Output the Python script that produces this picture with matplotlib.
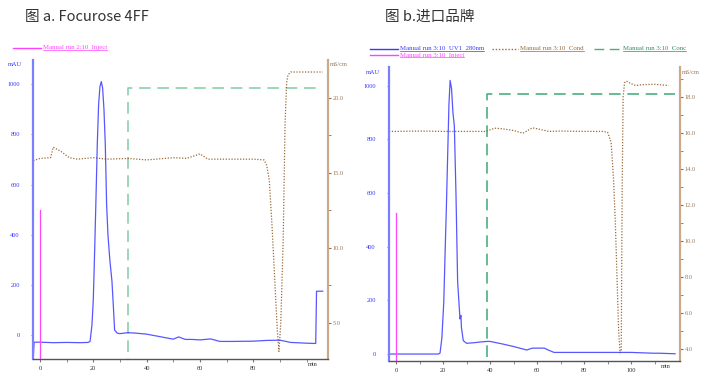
import matplotlib
matplotlib.use("Agg")
import matplotlib.pyplot as plt
from matplotlib.lines import Line2D
import numpy as np

# ---------------- data: panel a (Focurose 4FF) ----------------
a_uv_t = [-2.6, -2.5, -2.2, 0, 5, 10, 15, 18, 18.8, 19.5, 20, 20.5, 21, 21.5, 22, 22.5,
          23.0, 23.5, 24.0, 24.5, 25.0, 25.5, 26.2, 27.0, 27.5, 28.0, 29, 30, 33, 36, 40,
          45, 50, 52, 54.5, 57, 60, 64, 67.5, 72, 80, 85, 90, 94, 100, 102.5, 103.4, 103.7, 106]
a_uv_v = [0, -95, -28, -28, -30, -29, -30, -29, -25, 40, 140, 330, 540, 760, 920, 990,
          1010, 985, 900, 760, 520, 400, 300, 215, 120, 20, 8, 6, 10, 8, 4,
          -6, -16, -7, -17, -17, -19, -15, -25, -25, -24, -21, -20, -29, -32, -33, -33, 175, 175]
a_inj_t = [0, 0]
a_inj_v = [-95, 500]
a_cond_t = [-2.5, 0, 4, 5, 8, 11, 14, 20, 25, 33, 40, 50, 55, 60, 63, 70, 80, 84, 85, 86,
            87, 88, 89, 89.6, 90.3, 91.2, 91.9, 92.5, 93.0, 94, 95, 106]
a_cond_v = [15.8, 15.95, 16.0, 16.7, 16.4, 16.0, 15.9, 16.0, 15.9, 15.95, 15.85, 16.0, 15.95,
            16.25, 15.9, 15.9, 15.9, 15.85, 15.5, 14.5, 11.5, 8.0, 4.5, 3.1, 5.0, 10.5, 18.3,
            21.0, 21.5, 21.7, 21.7, 21.7]
a_conc_t = [-2.6, 32.9, 32.9, 105.7]
a_conc_v = [0, 0, 100, 100]

# ---------------- data: panel b (imported brand) ----------------
b_uv_t = [-3, 0, 10, 18, 18.7, 19.5, 20.3, 21.0, 21.4, 22.0, 22.5, 23.0, 23.6, 24.2, 24.8,
          25.5, 26.2, 27.2, 27.6, 27.8, 28.6, 30, 33, 36, 38.6, 40, 45, 50, 55.6, 58,
          60, 63, 65, 67.2, 80, 100, 109.5, 112, 118.7]
b_uv_v = [0, 0, 0, 0, 3, 60, 194, 420, 544, 756, 930, 1020, 990, 900, 850,
          594, 269, 131, 144, 100, 50, 40, 42, 45, 47, 47, 38, 28, 15, 22,
          22, 22, 14, 6, 6, 6, 3, 3, 1]
b_inj_t = [0, 0]
b_inj_v = [-26, 527]
b_cond_t = [-3, 0, 10, 20, 30, 38, 42, 45, 50, 54, 58, 60, 65, 70, 80, 88, 90, 91.5, 92.5,
            93.3, 94, 94.7, 95.3, 95.8, 96.2, 96.6, 97.2, 98, 100, 102, 105, 110, 116]
b_cond_v = [16.1, 16.1, 16.12, 16.1, 16.1, 16.1, 16.28, 16.25, 16.15, 16.0, 16.3, 16.25,
            16.1, 16.12, 16.1, 16.1, 16.05, 15.5, 13.5, 11.0, 8.0, 5.0, 3.8, 3.9, 13.0, 18.0,
            18.8, 18.9, 18.75, 18.65, 18.7, 18.72, 18.65]
b_conc_t = [-3, 38.6, 38.6, 118.7]
b_conc_v = [0, 0, 100, 100]

# ---------------- style ----------------
W, H = 716, 378
fig = plt.figure(figsize=(W / 100, H / 100), dpi=100)
fig.patch.set_facecolor("white")

BLUE = "#3a3aff"
BLUE_SP = "#7d7dff"
MAG = "#ff44ff"
BROWN = "#9a6a3a"
TAN = "#c9ab8c"
GREEN_A = "#8ccfae"
GREEN_B = "#4caf7f"
SERIF = "Liberation Serif"
TFS = 4.6


def px_rect(l, r, b, t):
    return [l / W, (H - b) / H, (r - l) / W, (b - t) / H]


def make_panel(rect, xlim, ylim, cond_lim, conc_lim, cond_major, cond_minor, cond_fmt,
               uv_t, uv_v, inj_t, inj_v, cond_t, cond_v, conc_t, conc_v, green, min_x,
               xmajor, xminor):
    ax = fig.add_axes(rect)
    ax2 = ax.twinx()
    ax3 = ax.twinx()
    ax3.axis("off")
    ax.set_zorder(3)
    ax.patch.set_visible(False)
    ax2.set_zorder(2)
    ax3.set_zorder(1)

    ax3.plot(conc_t, conc_v, color=green, lw=1.2, dashes=(7, 4))
    ax3.set_ylim(*conc_lim)
    ax3.set_xlim(*xlim)

    ax2.plot(cond_t, cond_v, color=BROWN, lw=0.9, ls=(0, (1, 1.3)))
    ax2.set_ylim(*cond_lim)
    ax2.set_xlim(*xlim)

    ax.plot(uv_t, uv_v, color=BLUE, lw=0.9, alpha=0.85)
    ax.plot(inj_t, inj_v, color=MAG, lw=0.9)
    ax.set_xlim(*xlim)
    ax.set_ylim(*ylim)

    for s in ["top", "right"]:
        ax.spines[s].set_visible(False)
    for s in ["top", "left", "bottom"]:
        ax2.spines[s].set_visible(False)
    ax.spines["left"].set_color(BLUE_SP)
    ax.spines["left"].set_linewidth(1.6)
    ax.spines["bottom"].set_color("#555555")
    ax.spines["bottom"].set_linewidth(1.0)
    ax2.spines["right"].set_color(TAN)
    ax2.spines["right"].set_linewidth(1.6)

    ax.set_yticks([0, 200, 400, 600, 800, 1000])
    ax.set_yticklabels(["0", "200", "400", "600", "800", "1000"])
    ax.tick_params(axis="y", colors=BLUE_SP, labelcolor=BLUE, labelsize=TFS,
                   length=1.5, pad=8)
    ax.set_xticks(xmajor)
    ax.set_xticklabels([str(v) for v in xmajor])
    ax.set_xticks(xminor, minor=True)
    ax.tick_params(axis="x", which="both", colors="#777777", labelcolor="#333333",
                   labelsize=TFS, length=2, pad=3)
    for lab in ax.get_xticklabels() + ax.get_yticklabels():
        lab.set_family(SERIF)

    ax2.set_yticks(cond_major)
    ax2.set_yticklabels([cond_fmt % v for v in cond_major])
    ax2.set_yticks(cond_minor, minor=True)
    ax2.tick_params(axis="y", which="both", colors=BROWN, labelcolor="#9a7a5a",
                    labelsize=TFS, length=2, pad=1.5)
    for lab in ax2.get_yticklabels():
        lab.set_family(SERIF)

    ax.text(min_x, -0.01, "min", transform=ax.get_xaxis_transform(), ha="center",
            va="top", fontsize=TFS, family=SERIF, color="#333333")
    return ax, ax2


axA, axA2 = make_panel(px_rect(33, 328, 359, 60), (-2.6, 108), (-95, 1096), (2.6, 22.5),
                       (3, 110.1), [5.0, 10.0, 15.0, 20.0], [7.5, 12.5, 17.5], "%.1f",
                       a_uv_t, a_uv_v, a_inj_t, a_inj_v, a_cond_t, a_cond_v,
                       a_conc_t, a_conc_v, GREEN_A, 102.4,
                       [0, 20, 40, 60, 80], [10, 30, 50, 70, 90, 100])
axB, axB2 = make_panel(px_rect(389, 680, 361, 67), (-3, 120.8), (-26, 1070), (3.34, 19.68),
                       (3, 109.9), [4.0, 6.0, 8.0, 10.0, 12.0, 14.0, 16.0, 18.0],
                       [5, 7, 9, 11, 13, 15, 17, 19], "%.1f",
                       b_uv_t, b_uv_v, b_inj_t, b_inj_v, b_cond_t, b_cond_v,
                       b_conc_t, b_conc_v, GREEN_B, 114.9,
                       [0, 20, 40, 60, 80, 100], [10, 30, 50, 70, 90, 110])

# unit labels
def ftext(x, y, s, **kw):
    return fig.text(x / W, 1 - y / H, s, **kw)

ftext(8, 65, "mAU", fontsize=TFS, family=SERIF, color=BLUE, va="center")
ftext(330, 65, "mS/cm", fontsize=TFS, family=SERIF, color="#9a7a5a", va="center")
ftext(366, 72, "mAU", fontsize=TFS, family=SERIF, color=BLUE, va="center")
ftext(682, 72, "mS/cm", fontsize=TFS, family=SERIF, color="#9a7a5a", va="center")

# titles
TFONT = ["Noto Sans CJK SC", "DejaVu Sans"]
ftext(25, 17, "图 a. Focurose 4FF", fontsize=10.5, family=TFONT, color="#333333", va="center")
ftext(385, 17, "图 b.进口品牌", fontsize=10.5, family=TFONT, color="#333333", va="center")

# legends
legend_texts = []
def legend_item(x0, x1, y, color, style, label, tx, lab_color):
    ln = Line2D([x0 / W, x1 / W], [1 - y / H, 1 - y / H], transform=fig.transFigure,
                color=color, lw=1.0, **style)
    fig.add_artist(ln)
    t = ftext(tx, y, label, fontsize=TFS + 0.3, family=SERIF, color=lab_color, va="center")
    legend_texts.append((t, lab_color))

legend_item(13, 41, 48, MAG, {}, "Manual run 2:10  Inject", 43, MAG)
legend_item(370, 398, 49, BLUE, {}, "Manual run 3:10  UV1  280nm", 400, BLUE)
legend_item(370, 398, 55, MAG, {}, "Manual run 3:10  Inject", 400, MAG)
legend_item(492, 518, 49, BROWN, {"ls": (0, (1, 1.3))}, "Manual run 3:10  Cond", 520, BROWN)
legend_item(594, 624, 49, GREEN_B, {"dashes": (7, 4)}, "Manual run 3:10  Conc", 623, "#2f8f60")

# underline legend texts
fig.canvas.draw()
r = fig.canvas.get_renderer()
for t, c in legend_texts:
    bb = t.get_window_extent(renderer=r).transformed(fig.transFigure.inverted())
    fig.add_artist(Line2D([bb.x0, bb.x1], [bb.y0 + 0.002, bb.y0 + 0.002],
                          transform=fig.transFigure, color=c, lw=0.5))

fig.savefig("out.png", dpi=100, facecolor="white")
